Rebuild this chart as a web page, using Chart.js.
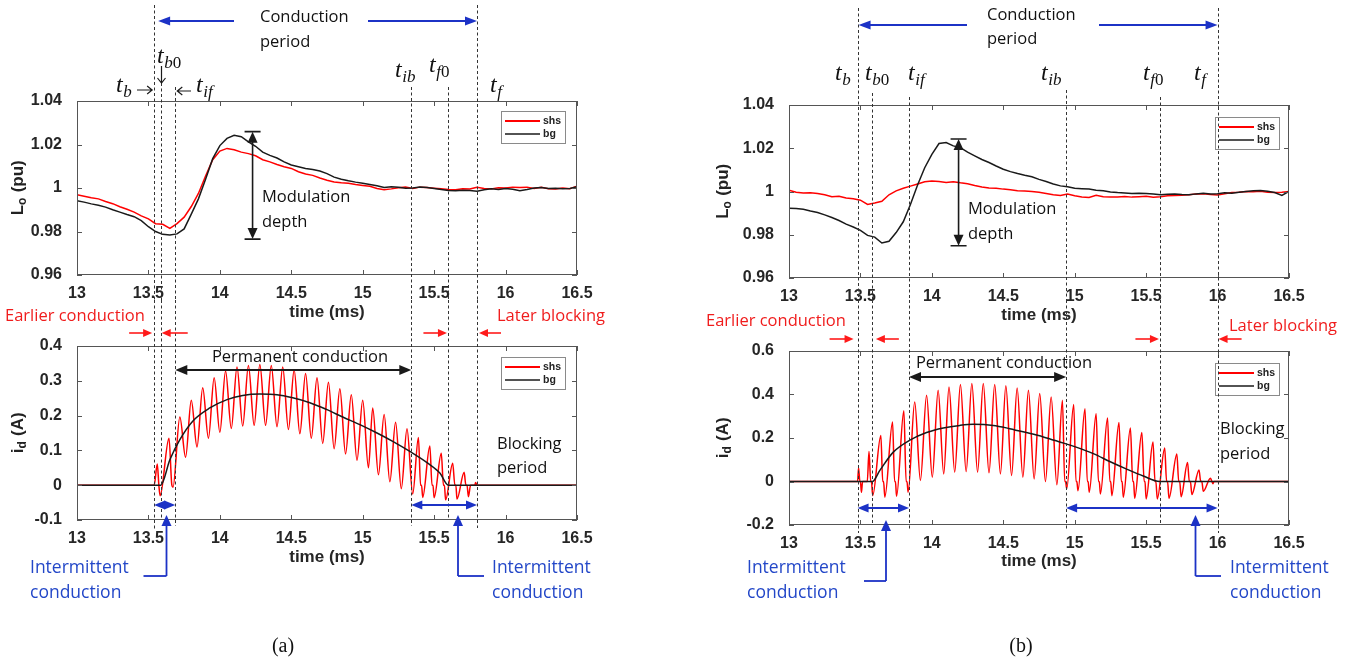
<!DOCTYPE html>
<html>
<head>
<meta charset="utf-8">
<script src="https://cdn.jsdelivr.net/npm/chart.js@4.4.1/dist/chart.umd.min.js"></script>
<style>
  body { margin: 0; background: #fff; width: 1356px; height: 662px; position: relative; overflow: hidden; }
  canvas { position: absolute; }
</style>
</head>
<body>
<canvas id="loA" width="680" height="330" style="left:0;top:0;width:680px;height:330px"></canvas>
<canvas id="loB" width="676" height="330" style="left:680px;top:0;width:676px;height:330px"></canvas>
<canvas id="idA" width="680" height="362" style="left:0;top:300px;width:680px;height:362px"></canvas>
<canvas id="idB" width="676" height="362" style="left:680px;top:300px;width:676px;height:362px"></canvas>
<script>
// time base of the Lo traces (ms)
const timeLo = [
  13.00, 13.05, 13.10, 13.15, 13.20, 13.25, 13.30, 13.35, 13.40, 13.45,
  13.50, 13.55, 13.60, 13.65, 13.70, 13.75, 13.80, 13.85, 13.90, 13.95,
  14.00, 14.05, 14.10, 14.15, 14.20, 14.25, 14.30, 14.35, 14.40, 14.45,
  14.50, 14.55, 14.60, 14.65, 14.70, 14.75, 14.80, 14.85, 14.90, 14.95,
  15.00, 15.05, 15.10, 15.15, 15.20, 15.25, 15.30, 15.35, 15.40, 15.45,
  15.50, 15.55, 15.60, 15.65, 15.70, 15.75, 15.80, 15.85, 15.90, 15.95,
  16.00, 16.05, 16.10, 16.15, 16.20, 16.25, 16.30, 16.35, 16.40, 16.45,
  16.50,
];

// (a) Lo in pu
const loShsA = [
  0.9969, 0.9962, 0.9955, 0.9950, 0.9938, 0.9928, 0.9914, 0.9902, 0.9889, 0.9872,
  0.9858, 0.9836, 0.9833, 0.9814, 0.9836, 0.9866, 0.9915, 0.9975, 1.0055, 1.0130,
  1.0170, 1.0182, 1.0176, 1.0165, 1.0158, 1.0148, 1.0130, 1.0120, 1.0108, 1.0098,
  1.0090, 1.0075, 1.0064, 1.0058, 1.0046, 1.0036, 1.0028, 1.0024, 1.0022, 1.0016,
  1.0012, 1.0008, 0.9998, 0.9992, 0.9996, 1.0001, 1.0004, 0.9998, 1.0004, 1.0002,
  0.9999, 0.9996, 0.9993, 0.9992, 0.9997, 0.9995, 1.0003, 0.9998, 0.9996, 1.0001,
  1.0000, 1.0004, 1.0002, 1.0004, 0.9998, 1.0003, 0.9997, 0.9995, 1.0000, 0.9997,
  1.0008,
];
const loBgA = [
  0.9942, 0.9935, 0.9927, 0.9921, 0.9912, 0.9900, 0.9889, 0.9878, 0.9868, 0.9850,
  0.9822, 0.9800, 0.9787, 0.9784, 0.9789, 0.9812, 0.9880, 0.9950, 1.0040, 1.0135,
  1.0195, 1.0228, 1.0242, 1.0236, 1.0212, 1.0192, 1.0165, 1.0150, 1.0138, 1.0120,
  1.0106, 1.0098, 1.0090, 1.0085, 1.0078, 1.0066, 1.0050, 1.0040, 1.0033, 1.0027,
  1.0022, 1.0016, 1.0010, 1.0002, 1.0006, 1.0003, 0.9999, 1.0000, 1.0005, 1.0002,
  0.9998, 0.9993, 0.9989, 0.9987, 0.9990, 0.9988, 0.9985, 0.9992, 0.9996, 0.9993,
  0.9998, 0.9994, 0.9987, 0.9993, 1.0000, 1.0002, 0.9998, 0.9999, 0.9996, 0.9998,
  1.0006,
];

// (b) Lo in pu
const loShsB = [
  1.0006, 0.9997, 0.9993, 0.9994, 0.9991, 0.9985, 0.9976, 0.9978, 0.9970, 0.9966,
  0.9960, 0.9940, 0.9947, 0.9955, 0.9985, 1.0003, 1.0015, 1.0025, 1.0035, 1.0045,
  1.0049, 1.0046, 1.0042, 1.0045, 1.0040, 1.0036, 1.0028, 1.0021, 1.0016, 1.0015,
  1.0011, 1.0008, 1.0004, 1.0002, 1.0000, 0.9996, 0.9991, 0.9985, 0.9982, 0.9988,
  0.9980, 0.9975, 0.9972, 0.9983, 0.9976, 0.9974, 0.9975, 0.9977, 0.9974, 0.9976,
  0.9978, 0.9973, 0.9976, 0.9980, 0.9982, 0.9983, 0.9985, 0.9988, 0.9990, 0.9986,
  0.9984, 0.9990, 0.9995, 0.9997, 1.0000, 0.9999, 1.0001, 0.9997, 0.9995, 0.9997,
  1.0000,
];
const loBgB = [
  0.9923, 0.9921, 0.9918, 0.9910, 0.9903, 0.9892, 0.9880, 0.9866, 0.9849, 0.9836,
  0.9820, 0.9797, 0.9789, 0.9762, 0.9770, 0.9810, 0.9860, 0.9940, 1.0030, 1.0110,
  1.0172, 1.0222, 1.0226, 1.0211, 1.0203, 1.0182, 1.0165, 1.0148, 1.0134, 1.0118,
  1.0103, 1.0092, 1.0083, 1.0075, 1.0068, 1.0056, 1.0046, 1.0035, 1.0026, 1.0022,
  1.0015, 1.0013, 1.0011, 1.0006, 1.0003, 0.9998, 0.9995, 0.9993, 0.9991, 0.9992,
  0.9991, 0.9988, 0.9985, 0.9987, 0.9988, 0.9986, 0.9985, 0.9989, 0.9992, 0.9988,
  0.9990, 0.9994, 0.9992, 0.9996, 1.0000, 1.0003, 1.0005, 1.0001, 0.9995, 0.9982,
  1.0000,
];

// (a) diode current id in A: shs peaks/troughs, bg averaged
const idShsTimeA = [
  13.00, 13.54, 13.562, 13.573, 13.582, 13.644, 13.664, 13.672, 13.72, 13.76,
  13.80, 13.84, 13.88, 13.92, 13.96, 14.00, 14.04, 14.08, 14.12, 14.16,
  14.20, 14.24, 14.28, 14.32, 14.36, 14.40, 14.44, 14.48, 14.52, 14.56,
  14.60, 14.64, 14.68, 14.72, 14.76, 14.80, 14.84, 14.88, 14.92, 14.96,
  15.00, 15.04, 15.07, 15.11, 15.15, 15.19, 15.23, 15.27, 15.31, 15.35,
  15.39, 15.405, 15.412, 15.42, 15.47, 15.485, 15.492, 15.50, 15.55, 15.565,
  15.572, 15.58, 15.63, 15.645, 15.652, 15.66, 15.71, 15.722, 15.73, 15.74,
  15.755, 15.785, 15.79, 15.80, 16.50,
];
const idShsA = [
  0, 0, 0.061, 0, -0.03, 0.135, 0, -0.006, 0.196, 0.08,
  0.244, 0.11, 0.28, 0.135, 0.309, 0.152, 0.328, 0.163, 0.34, 0.17,
  0.344, 0.172, 0.347, 0.172, 0.344, 0.168, 0.34, 0.16, 0.331, 0.148,
  0.321, 0.135, 0.309, 0.12, 0.296, 0.105, 0.277, 0.09, 0.26, 0.072,
  0.244, 0.05, 0.222, 0.03, 0.203, 0.01, 0.181, -0.01, 0.162, -0.025,
  0.137, 0, 0, -0.035, 0.113, 0, 0, -0.036, 0.092, 0,
  0, -0.042, 0.063, 0, 0, -0.04, 0.037, 0, 0, -0.033,
  0, 0, 0.008, 0, 0,
];
const idBgTimeA = [
  13.00, 13.586, 13.65, 13.72, 13.81, 13.93, 14.05, 14.16, 14.28, 14.40, 14.51,
  14.63, 14.75, 14.86, 14.98, 15.10, 15.21, 15.33, 15.45, 15.54, 15.60, 16.50,
];
const idBgA = [
  0, 0, 0.073, 0.131, 0.184, 0.222, 0.246, 0.258, 0.262, 0.26, 0.251,
  0.237, 0.217, 0.196, 0.174, 0.15, 0.126, 0.097, 0.065, 0.035, 0, 0,
];

// (b) diode current id in A
const idShsTimeB = [
  13.00, 13.48, 13.487, 13.496, 13.50, 13.507, 13.515, 13.548, 13.56, 13.572,
  13.577, 13.586, 13.643, 13.656, 13.662, 13.671, 13.725, 13.739, 13.745, 13.753,
  13.804, 13.82, 13.826, 13.834, 13.88, 13.92, 13.963, 14.003, 14.044, 14.083,
  14.12, 14.16, 14.20, 14.24, 14.28, 14.32, 14.36, 14.40, 14.44, 14.48,
  14.518, 14.558, 14.597, 14.637, 14.676, 14.716, 14.755, 14.795, 14.835, 14.875,
  14.914, 14.93, 14.936, 14.944, 14.993, 15.009, 15.015, 15.023, 15.072, 15.088,
  15.094, 15.102, 15.15, 15.166, 15.172, 15.18, 15.23, 15.246, 15.252, 15.26,
  15.31, 15.326, 15.332, 15.34, 15.39, 15.406, 15.412, 15.42, 15.47, 15.486,
  15.492, 15.50, 15.548, 15.562, 15.568, 15.578, 15.63, 15.643, 15.65, 15.66,
  15.715, 15.728, 15.735, 15.745, 15.79, 15.802, 15.81, 15.82, 15.87, 15.882,
  15.89, 15.90, 15.95, 15.96, 15.968, 15.975, 16.50,
];
const idShsB = [
  0, 0, 0.062, 0, 0, -0.049, 0, 0, 0.138, 0,
  0, -0.065, 0.212, 0, 0, -0.072, 0.274, 0, 0, -0.068,
  0.325, 0, 0, -0.049, 0.366, 0.005, 0.397, 0.02, 0.42, 0.035,
  0.435, 0.043, 0.446, 0.046, 0.451, 0.043, 0.451, 0.04, 0.446, 0.035,
  0.44, 0.028, 0.43, 0.02, 0.42, 0.012, 0.405, 0.0, 0.389, -0.015,
  0.374, 0, 0, -0.034, 0.354, 0, 0, -0.042, 0.335, 0,
  0, -0.049, 0.312, 0, 0, -0.057, 0.292, 0, 0, -0.065,
  0.271, 0, 0, -0.072, 0.246, 0, 0, -0.077, 0.225, 0,
  0, -0.08, 0.182, 0, 0, -0.08, 0.154, 0, 0, -0.077,
  0.126, 0, 0, -0.07, 0.087, 0, 0, -0.06, 0.053, 0,
  0, -0.045, 0.015, 0, -0.01, 0, 0,
];
const idBgTimeB = [
  13.00, 13.583, 13.636, 13.73, 13.846, 13.963, 14.08, 14.196, 14.29, 14.43, 14.545,
  14.66, 14.78, 14.895, 15.01, 15.13, 15.245, 15.36, 15.48, 15.594, 16.50,
];
const idBgB = [
  0, 0, 0.051, 0.135, 0.19, 0.225, 0.246, 0.258, 0.263, 0.258, 0.243,
  0.225, 0.205, 0.182, 0.158, 0.128, 0.092, 0.058, 0.025, 0, 0,
];

// instants tb, tb0, tif, tib, tf0, tf (ms)
const marksA = [13.54, 13.586, 13.688, 15.34, 15.6, 15.8];
const marksB = [13.48, 13.58, 13.84, 14.94, 15.6, 16.0];

// modulation depth bracket: time, upper and lower Lo
const modA = [14.229, 1.0259, 0.9765];
const modB = [14.187, 1.0243, 0.9749];

const RED = "#ff0000";
const BLACK = "#1a1a1a";
const BLUE = "#1c32c6";
const BLUE_TXT = "#2347c8";
const RED_TXT = "#f01c1c";
const SANS = '"Open Sans", sans-serif';
const AXF = '"Liberation Sans", Arial, sans-serif';

function pts(xs, ys) {
  return xs.map((t, i) => ({ x: t, y: ys[i] }));
}

function text(ctx, s, x, y, color, size, align) {
  ctx.save();
  ctx.font = (size || 16.5) + "px " + SANS;
  ctx.fillStyle = color || "#111";
  ctx.textAlign = align || "left";
  ctx.textBaseline = "middle";
  ctx.fillText(s, x, y);
  ctx.restore();
}

function head(ctx, x, y, ang, len, wid) {
  const c = Math.cos(ang), s = Math.sin(ang);
  ctx.beginPath();
  ctx.moveTo(x, y);
  ctx.lineTo(x - len * c + (wid / 2) * s, y - len * s - (wid / 2) * c);
  ctx.lineTo(x - len * c - (wid / 2) * s, y - len * s + (wid / 2) * c);
  ctx.closePath();
  ctx.fill();
}

// straight arrow from (x1,y1) to (x2,y2); o.both puts a head on both ends
function arrow(ctx, x1, y1, x2, y2, o) {
  const ang = Math.atan2(y2 - y1, x2 - x1);
  const c = Math.cos(ang), s = Math.sin(ang);
  ctx.save();
  ctx.strokeStyle = o.color;
  ctx.fillStyle = o.color;
  ctx.lineWidth = o.width;
  if (o.open) {
    ctx.beginPath();
    ctx.moveTo(x1, y1);
    ctx.lineTo(x2, y2);
    ctx.moveTo(x2 - o.len * c + (o.wid / 2) * s, y2 - o.len * s - (o.wid / 2) * c);
    ctx.lineTo(x2, y2);
    ctx.lineTo(x2 - o.len * c - (o.wid / 2) * s, y2 - o.len * s + (o.wid / 2) * c);
    ctx.stroke();
    ctx.restore();
    return;
  }
  const a = o.both ? o.len * 0.7 : 0;
  ctx.beginPath();
  ctx.moveTo(x1 + a * c, y1 + a * s);
  ctx.lineTo(x2 - o.len * 0.7 * c, y2 - o.len * 0.7 * s);
  ctx.stroke();
  head(ctx, x2, y2, ang, o.len, o.wid);
  if (o.both) head(ctx, x1, y1, ang + Math.PI, o.len, o.wid);
  ctx.restore();
}

const BIG_BLUE = { color: BLUE, width: 2, len: 12, wid: 9 };
const RED_ARR = { color: "#ff1a1a", width: 1.6, len: 9, wid: 8 };
const BLACK_DBL = { color: BLACK, width: 1.8, len: 12, wid: 10, both: true };
const BLUE_DBL = { color: BLUE, width: 1.8, len: 11, wid: 9, both: true };
const THIN = { color: BLACK, width: 1.2, len: 5, wid: 8, open: true };

// italic t with subscript
function tLabel(ctx, x, base, sub) {
  ctx.save();
  ctx.fillStyle = "#111";
  ctx.textBaseline = "alphabetic";
  ctx.font = 'italic 24px "Liberation Serif", serif';
  ctx.fillText("t", x, base);
  let cx = x + ctx.measureText("t").width + 0.5;
  for (const ch of sub) {
    ctx.font = (/[0-9]/.test(ch) ? "" : "italic ") + '17px "Liberation Serif", serif';
    ctx.fillText(ch, cx, base + 5);
    cx += ctx.measureText(ch).width;
  }
  ctx.restore();
}

function modDepth(ctx, x, yTop, yBot) {
  ctx.save();
  ctx.strokeStyle = BLACK;
  ctx.lineWidth = 1.6;
  ctx.beginPath();
  ctx.moveTo(x - 8, yTop);
  ctx.lineTo(x + 8, yTop);
  ctx.moveTo(x - 8, yBot);
  ctx.lineTo(x + 8, yBot);
  ctx.stroke();
  ctx.restore();
  arrow(ctx, x, yTop, x, yBot, { color: BLACK, width: 1.6, len: 11, wid: 10, both: true });
}

function callout(ctx, x, yTip, yEnd, xEnd) {
  arrow(ctx, x, yEnd, x, yTip, { color: BLUE, width: 1.8, len: 11, wid: 10 });
  ctx.save();
  ctx.strokeStyle = BLUE;
  ctx.lineWidth = 1.8;
  ctx.beginPath();
  ctx.moveTo(x, yEnd);
  ctx.lineTo(xEnd, yEnd);
  ctx.stroke();
  ctx.restore();
}

function yTitle(ctx, cx, cy, main, sub, rest) {
  ctx.save();
  ctx.translate(cx, cy);
  ctx.rotate(-Math.PI / 2);
  ctx.fillStyle = "#222";
  ctx.textBaseline = "middle";
  const big = "bold 17px " + AXF, small = "bold 12px " + AXF;
  ctx.font = big;
  const w1 = ctx.measureText(main).width, w3 = ctx.measureText(rest).width;
  ctx.font = small;
  const w2 = ctx.measureText(sub).width;
  let x = -(w1 + w2 + w3) / 2;
  ctx.font = big;
  ctx.fillText(main, x, 0);
  ctx.font = small;
  ctx.fillText(sub, x + w1, 5);
  ctx.font = big;
  ctx.fillText(rest, x + w1 + w2 + 0.5, 0);
  ctx.restore();
}

function legendBox(ctx, chart, bx, by) {
  ctx.save();
  ctx.fillStyle = "#fff";
  ctx.fillRect(bx, by, 64, 32);
  ctx.strokeStyle = "#8a8a8a";
  ctx.lineWidth = 1;
  ctx.strokeRect(bx + 0.5, by + 0.5, 64, 32);
  chart.data.datasets.forEach((ds, i) => {
    const y = by + 10 + i * 13;
    ctx.strokeStyle = ds.borderColor;
    ctx.lineWidth = i === 0 ? 2 : 1.6;
    ctx.beginPath();
    ctx.moveTo(bx + 4, y);
    ctx.lineTo(bx + 39, y);
    ctx.stroke();
    ctx.fillStyle = "#222";
    ctx.font = "bold 10.5px " + AXF;
    ctx.textBaseline = "middle";
    ctx.fillText(ds.label, bx + 42, y);
  });
  ctx.restore();
}

// per-canvas extras: legend corner, y title, dashed instants, annotations
const extras = {
  loA: {
    legend: [501, 111], title: [18, "L", "o", " (pu)"], marks: marksA,
    from: [5, 83, 87, 87, 87, 5], to: [300, 300, 300, 300, 300, 300],
    draw(ctx, x, y) {
      const [tb, tb0, tif, tib, tf0, tf] = marksA;
      arrow(ctx, 234, 21, x(tb) + 4, 21, BIG_BLUE);
      arrow(ctx, 368, 21, x(tf), 21, BIG_BLUE);
      text(ctx, "Conduction", 260, 17);
      text(ctx, "period", 260, 42);
      tLabel(ctx, 116, 92, "b");
      tLabel(ctx, 157, 63, "b0");
      tLabel(ctx, 196, 92, "if");
      tLabel(ctx, 395, 77, "ib");
      tLabel(ctx, 429, 72, "f0");
      tLabel(ctx, 490, 92, "f");
      arrow(ctx, 137, 90, x(tb) - 2, 90, THIN);
      arrow(ctx, 161.5, 66, 161.5, 83, THIN);
      arrow(ctx, 191, 91, x(tif) + 2, 91, THIN);
      modDepth(ctx, x(modA[0]), y(modA[1]), y(modA[2]));
      text(ctx, "Modulation", 262, 197);
      text(ctx, "depth", 262, 222);
    },
  },
  loB: {
    legend: [535, 117], title: [43, "L", "o", " (pu)"], marks: marksB,
    from: [8, 93, 97, 90, 97, 8], to: [300, 300, 300, 300, 300, 300],
    draw(ctx, x, y) {
      const [tb, tb0, tif, tib, tf0, tf] = marksB;
      arrow(ctx, 287, 25, x(tb) + 1, 25, BIG_BLUE);
      arrow(ctx, 419, 25, x(tf), 25, BIG_BLUE);
      text(ctx, "Conduction", 307, 15);
      text(ctx, "period", 307, 39);
      tLabel(ctx, 155, 80, "b");
      tLabel(ctx, 185, 80, "b0");
      tLabel(ctx, 228, 80, "if");
      tLabel(ctx, 361, 80, "ib");
      tLabel(ctx, 463, 80, "f0");
      tLabel(ctx, 514, 80, "f");
      modDepth(ctx, x(modB[0]), y(modB[1]), y(modB[2]));
      text(ctx, "Modulation", 288, 209);
      text(ctx, "depth", 288, 234);
    },
  },
  idA: {
    legend: [501, 57], title: [18, "i", "d", " (A)"], marks: marksA,
    from: [0, 0, 0, 0, 0, 0], to: [230, 220, 226, 226, 220, 228],
    draw(ctx, x) {
      const [tb, tb0, tif, tib, tf0, tf] = marksA;
      text(ctx, "Earlier conduction", 5, 16, RED_TXT, 16.5);
      arrow(ctx, x(tb) - 25, 33, x(tb) - 2, 33, RED_ARR);
      arrow(ctx, x(tb0) + 27, 33, x(tb0) + 1, 33, RED_ARR);
      text(ctx, "Later blocking", 497, 16, RED_TXT, 16.5);
      arrow(ctx, x(tf0) - 25, 33, x(tf0) - 1.5, 33, RED_ARR);
      arrow(ctx, x(tf) + 24, 33, x(tf) + 2, 33, RED_ARR);
      text(ctx, "Permanent conduction", 300, 57, "#111", 16.5, "center");
      arrow(ctx, x(tif), 70, x(tib), 70, BLACK_DBL);
      text(ctx, "Blocking", 497, 144);
      text(ctx, "period", 497, 168);
      arrow(ctx, x(tb), 205, x(tif), 205, BLUE_DBL);
      arrow(ctx, x(tib), 205, x(tf), 205, BLUE_DBL);
      callout(ctx, 166.5, 215, 276, 143.5);
      callout(ctx, 458, 215, 276, 484);
      text(ctx, "Intermittent", 30, 268, BLUE_TXT, 17.5);
      text(ctx, "conduction", 30, 293, BLUE_TXT, 17.5);
      text(ctx, "Intermittent", 492, 268, BLUE_TXT, 17.5);
      text(ctx, "conduction", 492, 293, BLUE_TXT, 17.5);
      ctx.save();
      ctx.font = '20px "Liberation Serif", serif';
      ctx.fillStyle = "#111";
      ctx.textAlign = "center";
      ctx.textBaseline = "middle";
      ctx.fillText("(a)", 283, 347);
      ctx.restore();
    },
  },
  idB: {
    legend: [535, 63], title: [43, "i", "d", " (A)"], marks: marksB,
    from: [0, 0, 0, 0, 0, 0], to: [233, 225, 231, 231, 225, 233],
    draw(ctx, x) {
      const [tb, tb0, tif, tib, tf0, tf] = marksB;
      text(ctx, "Earlier conduction", 26, 21, RED_TXT, 16.5);
      arrow(ctx, x(tb) - 28, 39, x(tb) - 4, 39, RED_ARR);
      arrow(ctx, x(tb0) + 27, 39, x(tb0) + 4, 39, RED_ARR);
      text(ctx, "Later blocking", 549, 26, RED_TXT, 16.5);
      arrow(ctx, x(tf0) - 25, 39, x(tf0) - 1.5, 39, RED_ARR);
      arrow(ctx, x(tf) + 24, 39, x(tf) + 1, 39, RED_ARR);
      text(ctx, "Permanent conduction", 324, 63, "#111", 16.5, "center");
      arrow(ctx, x(tif), 77, x(tib), 77, BLACK_DBL);
      text(ctx, "Blocking", 540, 129);
      text(ctx, "period", 540, 154);
      arrow(ctx, x(tb), 208, x(tif), 208, BLUE_DBL);
      arrow(ctx, x(tib), 208, x(tf), 208, BLUE_DBL);
      callout(ctx, 206, 220, 281, 184);
      callout(ctx, 515.5, 215, 276, 541);
      text(ctx, "Intermittent", 67, 268, BLUE_TXT, 17.5);
      text(ctx, "conduction", 67, 293, BLUE_TXT, 17.5);
      text(ctx, "Intermittent", 550, 268, BLUE_TXT, 17.5);
      text(ctx, "conduction", 550, 293, BLUE_TXT, 17.5);
      ctx.save();
      ctx.font = '20px "Liberation Serif", serif';
      ctx.fillStyle = "#111";
      ctx.textAlign = "center";
      ctx.textBaseline = "middle";
      ctx.fillText("(b)", 341, 347);
      ctx.restore();
    },
  },
};

// box, inward ticks, legend, dashed instants and notes
const framePlugin = {
  id: "matlabFrame",
  afterDatasetsDraw(chart) {
    const ex = extras[chart.canvas.id];
    const ctx = chart.ctx;
    const { left, right, top, bottom } = chart.chartArea;
    const sx = chart.scales.x, sy = chart.scales.y;
    ctx.save();
    ctx.strokeStyle = "#555";
    ctx.lineWidth = 1;
    ctx.strokeRect(left + 0.5, top + 0.5, right - left - 1, bottom - top - 1);
    ctx.beginPath();
    sx.ticks.forEach((tk) => {
      const px = Math.round(sx.getPixelForValue(tk.value)) + 0.5;
      ctx.moveTo(px, bottom);
      ctx.lineTo(px, bottom - 5);
      ctx.moveTo(px, top);
      ctx.lineTo(px, top + 5);
    });
    sy.ticks.forEach((tk) => {
      const py = Math.round(sy.getPixelForValue(tk.value)) + 0.5;
      ctx.moveTo(left, py);
      ctx.lineTo(left + 5, py);
      ctx.moveTo(right, py);
      ctx.lineTo(right - 5, py);
    });
    ctx.stroke();
    ctx.restore();
    legendBox(ctx, chart, ex.legend[0], ex.legend[1]);
  },
  afterDraw(chart) {
    const ex = extras[chart.canvas.id];
    const ctx = chart.ctx;
    const x = (v) => chart.scales.x.getPixelForValue(v);
    const y = (v) => chart.scales.y.getPixelForValue(v);
    ctx.save();
    ctx.strokeStyle = "#333";
    ctx.lineWidth = 1;
    ctx.setLineDash([3, 2.5]);
    ex.marks.forEach((t, i) => {
      const px = Math.round(x(t)) + 0.5;
      ctx.beginPath();
      ctx.moveTo(px, ex.from[i]);
      ctx.lineTo(px, ex.to[i]);
      ctx.stroke();
    });
    ctx.restore();
    const [tx, m, s, r] = ex.title;
    const { top, bottom } = chart.chartArea;
    yTitle(ctx, tx, (top + bottom) / 2, m, s, r);
    ex.draw(ctx, x, y);
  },
};

// tick text like 13, 13.5, 0.96, 1
const plainTick = (v) => String(Number(Number(v).toFixed(2)));

function makeChart(id, area, xH, yr, shs, bg, smooth) {
  const cv = document.getElementById(id);
  const w = cv.width, h = cv.height;
  const tickFont = { family: AXF, size: 16, weight: "bold" };
  const line = (label, data, color, order) => ({
    label,
    data,
    borderColor: color,
    borderWidth: 1.5,
    pointRadius: 0,
    fill: false,
    order,
    cubicInterpolationMode: smooth ? "monotone" : "default",
    tension: 0,
  });
  return new Chart(cv, {
    type: "line",
    data: { datasets: [line("shs", shs, RED, 2), line("bg", bg, BLACK, 1)] },
    options: {
      responsive: false,
      animation: false,
      events: [],
      layout: { padding: { left: 0, top: area[1], right: w - area[2], bottom: h - area[3] - xH } },
      plugins: { legend: { display: false }, tooltip: { enabled: false } },
      scales: {
        x: {
          type: "linear",
          min: 13,
          max: 16.5,
          grid: { display: false },
          border: { display: false },
          ticks: { stepSize: 0.5, padding: 1, maxRotation: 0, autoSkip: false, font: tickFont, color: "#262626", callback: plainTick },
          title: { display: true, text: "time (ms)", padding: 0, color: "#262626", font: { family: AXF, size: 17, weight: "bold" } },
          afterFit: (s) => { s.height = xH; },
        },
        y: {
          min: yr[0],
          max: yr[1],
          grid: { display: false },
          border: { display: false },
          ticks: { stepSize: yr[2], padding: 7, font: tickFont, color: "#262626", callback: plainTick },
          afterFit: (s) => { s.width = area[0]; },
        },
      },
    },
    plugins: [framePlugin],
  });
}

makeChart("loA", [77, 101, 577, 275], 48, [0.96, 1.04, 0.02], pts(timeLo, loShsA), pts(timeLo, loBgA), false);
makeChart("loB", [109, 105, 609, 278], 48, [0.96, 1.04, 0.02], pts(timeLo, loShsB), pts(timeLo, loBgB), false);
makeChart("idA", [77, 46, 577, 220], 48, [-0.1, 0.4, 0.1], pts(idShsTimeA, idShsA), pts(idBgTimeA, idBgA), true);
makeChart("idB", [109, 51, 609, 225], 47, [-0.2, 0.6, 0.2], pts(idShsTimeB, idShsB), pts(idBgTimeB, idBgB), true);
</script>
</body>
</html>
